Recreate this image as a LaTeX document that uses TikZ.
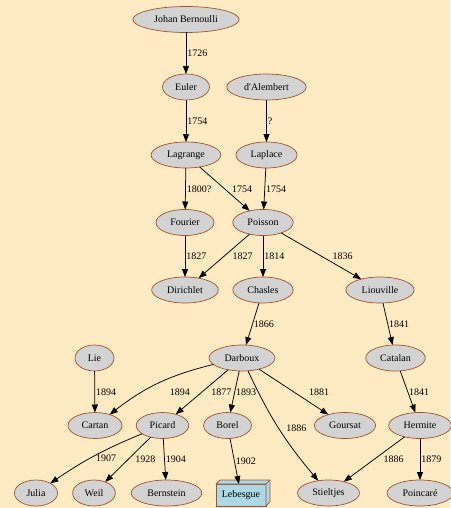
\documentclass[tikz,border=0pt]{standalone}
\usepackage{fontspec}
\setmainfont{Liberation Serif}
\usetikzlibrary{arrows.meta,shapes.geometric}
\definecolor{paper}{HTML}{FFEBC3}
\definecolor{nodefill}{HTML}{D3D3D3}
\definecolor{nodeline}{HTML}{A0522D}
\definecolor{boxfill}{HTML}{ADD8E6}
\tikzset{
	person/.style={
			ellipse, draw=nodeline, fill=nodefill, line width=0.7pt,
			inner xsep=5.8pt, inner ysep=1pt, outer sep=0pt,
			minimum width=39pt, minimum height=26pt,
			font=\fontsize{10}{12}\selectfont
		},
	lebox/.style={
			rectangle, draw=nodeline, fill=boxfill, line width=0.7pt,
			inner xsep=5.8pt, outer sep=0pt,
			minimum width=48pt, minimum height=22pt,
			font=\fontsize{10}{12}\selectfont
		},
	year/.style={midway, anchor=west, inner sep=1pt, font=\fontsize{10}{12}\selectfont},
	link/.style={->, line width=0.75pt}
}

\begin{document}
\begin{tikzpicture}[x=1pt, y=1pt, >={Triangle[length=8pt,width=6pt]}]

		% Paper
		\fill[paper] (0,0) rectangle (450,-508);
		\useasboundingbox (0,0) rectangle (450,-508);

		% Mathematicians, rank by rank
		\node[person] (bernoulli) at (186,-19.5) {Johan Bernoulli};
		\node[person] (euler) at (186,-87) {Euler};
		\node[person] (dalembert) at (266.5,-87) {d\textquotesingle Alembert};
		\node[person] (lagrange) at (186,-155) {Lagrange};
		\node[person] (laplace) at (266.5,-155) {Laplace};
		\node[person] (fourier) at (185,-222.5) {Fourier};
		\node[person] (poisson) at (263,-222.5) {Poisson};
		\node[person] (dirichlet) at (185,-290) {Dirichlet};
		\node[person] (chasles) at (263,-290) {Chasles};
		\node[person] (liouville) at (380,-290) {Liouville};
		\node[person] (lie) at (94.5,-358) {Lie};
		\node[person] (darboux) at (242,-358) {Darboux};
		\node[person] (catalan) at (395.5,-358) {Catalan};
		\node[person] (cartan) at (95,-425.5) {Cartan};
		\node[person] (picard) at (162.5,-425.5) {Picard};
		\node[person] (borel) at (227.5,-425.5) {Borel};
		\node[person] (goursat) at (345,-425.5) {Goursat};
		\node[person] (hermite) at (420,-425.5) {Hermite};
		\node[person] (julia) at (36,-493) {Julia};
		\node[person] (weil) at (94,-493) {Weil};
		\node[person] (bernstein) at (166.5,-493) {Bernstein};
		\node[person] (stieltjes) at (328.5,-493) {Stieltjes};
		\node[person] (poincare) at (420,-493) {Poincaré};

		% Lebesgue gets a box
		\node[lebox] (lebesgue) at (241,-495) {Lebesgue};
		\filldraw[draw=nodeline, fill=boxfill, line width=0.7pt, line join=round]
			(lebesgue.north west) -- ++(4,4) -- ([shift={(4,4)}]lebesgue.north east)
			-- ([shift={(4,4)}]lebesgue.south east) -- (lebesgue.south east)
			-- (lebesgue.north east) -- cycle;
		\draw[nodeline, line width=0.7pt] (lebesgue.north east) -- ++(4,4);

		% Teacher to student
		\draw[link] (bernoulli) -- (euler) node[year] {1726};
		\draw[link] (euler) -- (lagrange) node[year] {1754};
		\draw[link] (dalembert) -- (laplace) node[year] {?};
		\draw[link] (lagrange) -- (fourier) node[year] {1800?};
		\draw[link] (lagrange) -- (poisson) node[year, xshift=6] {1754};
		\draw[link] (laplace) -- (poisson) node[year] {1754};
		\draw[link] (fourier) -- (dirichlet) node[year] {1827};
		\draw[link] (poisson) -- (dirichlet) node[year, xshift=7] {1827};
		\draw[link] (poisson) -- (chasles) node[year] {1814};
		\draw[link] (poisson) -- (liouville) node[year, xshift=10] {1836};
		\draw[link] (chasles) -- (darboux) node[year] {1866};
		\draw[link] (liouville) -- (catalan) node[year] {1841};
		\draw[link] (catalan) -- (hermite) node[year] {1841};
		\draw[link] (lie) -- (cartan) node[year] {1894};
		\draw[link] (darboux) to[bend right=12] node[year, anchor=north west, xshift=10, yshift=-4] {1894} (cartan);
		\draw[link] (darboux) -- (picard) node[year, xshift=8] {1877};
		\draw[link] (darboux) -- (borel) node[year] {1893};
		\draw[link] (darboux) -- (goursat) node[year, xshift=14] {1881};
		\draw[link] (darboux) to[out=-65, in=130] node[year, xshift=6] {1886} (stieltjes);
		\draw[link] (hermite) -- (stieltjes) node[year, xshift=8] {1886};
		\draw[link] (hermite) -- (poincare) node[year] {1879};
		\draw[link] (picard) to[bend right=6] node[year, yshift=-3] {1907} (julia);
		\draw[link] (picard) -- (weil) node[year, xshift=6] {1928};
		\draw[link] (picard) -- (bernstein) node[year] {1904};
		\draw[link] (borel) -- (lebesgue) node[year] {1902};
	\end{tikzpicture}
\end{document}
